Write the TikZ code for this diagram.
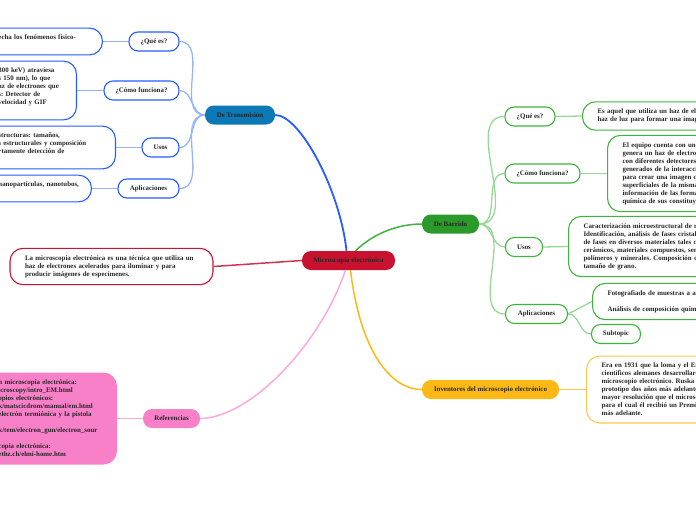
\documentclass[tikz,border=0pt]{standalone}
\usepackage{fontspec}
\setmainfont{Liberation Serif}
\frenchspacing
\definecolor{crim}{RGB}{200,18,48}
\definecolor{transfill}{RGB}{12,120,182}
\definecolor{transline}{RGB}{40,92,255}
\definecolor{translight}{RGB}{150,180,255}
\definecolor{barrfill}{RGB}{42,155,42}
\definecolor{barrline}{RGB}{62,180,62}
\definecolor{barrlight}{RGB}{150,215,150}
\definecolor{invfill}{RGB}{252,185,22}
\definecolor{invline}{RGB}{253,200,80}
\definecolor{reffill}{RGB}{248,128,200}
\definecolor{reflight}{RGB}{250,170,220}

\begin{document}
\begin{tikzpicture}[x=1pt, y=-1pt,
    every node/.style={font=\bfseries\fontsize{6.9}{8}\selectfont, text=black!85},
    topic/.style={rounded corners=9pt, minimum height=19pt, inner xsep=2pt},
    sub/.style={draw, fill=white, line width=1.1pt, rounded corners=9pt, minimum height=19pt, inner xsep=2pt},
    txtbox/.style={draw, fill=white, line width=1.1pt, rounded corners=13pt, align=left, inner xsep=15pt, inner ysep=7pt},
    twig/.style={line width=1.3pt}]
    \useasboundingbox (0,0) rectangle (696,520);
    \clip (0,0) rectangle (696,520);

    % centre and main topics
    \node[topic, fill=crim, minimum width=93pt] (micro) at (348.5,260.5) {Microscopía electrónica};
    \node[topic, fill=transfill, minimum width=70pt] (trans) at (240,115) {De Transmisión};
    \node[topic, fill=barrfill, minimum width=57pt] (barr) at (450.5,224) {De Barrido};
    \node[topic, fill=invfill, minimum width=137pt] (inv) at (490.5,389.5) {Inventores del microscopio electrónico};
    \node[topic, fill=reffill, minimum width=57pt] (ref) at (171.5,418.5) {Referencias};
    \node[txtbox, draw=crim, text width=173pt, minimum height=35pt] (defbox) at (111.5,266.5)
        {La microscopia electrónica es una técnica que utiliza un\\haz de electrones acelerados para iluminar y para\\producir imágenes de especímenes.};

    \draw[transline, line width=1.8pt] (trans.east) .. controls (300,115) and (340,190) .. ([xshift=-2pt]micro.north);
    \draw[barrline, line width=1.5pt] ([xshift=7pt]micro.north) .. controls (375,232) and (400,224) .. (barr.west);
    \draw[invfill, line width=1.5pt] ([xshift=2pt]micro.south) .. controls (360,350) and (390,389.5) .. (inv.west);
    \draw[reflight, line width=1.5pt] ([xshift=-3pt]micro.south) .. controls (320,345) and (250,418) .. (ref.east);
    \draw[crim!85, line width=1.5pt] (micro.west) -- (defbox.east);

    % de transmision
    \node[sub, draw=transline, minimum width=50pt] (tq) at (154,41.5) {¿Qué es?};
    \node[sub, draw=transline, minimum width=75pt] (tc) at (141.5,90.5) {¿Cómo funciona?};
    \node[sub, draw=transline, minimum width=37pt] (tu) at (160.5,147.5) {Usos};
    \node[sub, draw=transline, minimum width=61pt] (ta) at (148.5,188.5) {Aplicaciones};
    \node[txtbox, draw=transline, anchor=east, text width=89pt] (tqbox) at (103,41.5)
        {\mbox{echa los fenómenos físico-}\\~};
    \node[txtbox, draw=transline, anchor=east, text width=63pt] (tcbox) at (77,90.5)
        {300 keV) atraviesa\\s 150 nm), lo que\\\mbox{az de electrones que}\\s: Detector de\\velocidad y GIF\\~};
    \node[txtbox, draw=transline, anchor=east, text width=102pt] (tubox) at (116,147.5)
        {structuras: tamaños,\\\mbox{s estructurales y composición}\\rtamente detección de\\~};
    \node[txtbox, draw=transline, anchor=east, text width=78pt] (tabox) at (92,188.5)
        {\mbox{nanopartículas, nanotubos,}\\~};
    \foreach \s in {tq,tc,tu,ta} {
        \draw[translight, twig] (trans.west) to[out=180, in=0] (\s.east);
        \draw[translight, twig] (\s.west) -- (\s box.east);
    }

    % de barrido
    \node[sub, draw=barrline, minimum width=50pt] (bq) at (530,116.5) {¿Qué es?};
    \node[sub, draw=barrline, minimum width=75pt] (bc) at (542.5,173.5) {¿Cómo funciona?};
    \node[sub, draw=barrline, minimum width=37pt] (bu) at (524,247) {Usos};
    \node[sub, draw=barrline, minimum width=62pt] (ba) at (536.5,314) {Aplicaciones};
    \node[sub, draw=barrline, minimum width=49pt] (bs) at (616,334) {Subtopic};
    \node[txtbox, draw=barrline, anchor=west, text width=200pt] (bqbox) at (582,116)
        {Es aquel que utiliza un haz de ele\\haz de luz para formar una imag};
    \node[txtbox, draw=barrline, anchor=west, text width=200pt] (bcbox) at (607,173.5)
        {El equipo cuenta con un c\\genera un haz de electron\\con diferentes detectores\\generados de la interacci\\para crear una imagen qu\\superficiales de la misma\\información de las forma\\química de sus constituye};
    \node[txtbox, draw=barrline, anchor=west, text width=200pt] (bubox) at (568,246.5)
        {Caracterización microestructural de m\\Identificación, análisis de fases cristali\\de fases en diversos materiales tales co\\cerámicos, materiales compuestos, sem\\polímeros y minerales. Composición d\\tamaño de grano.};
    \node[txtbox, draw=barrline, anchor=west, text width=200pt] (babox) at (592,301.5)
        {Fotografiado de muestras a alt\\~\\Análisis de composición quími};
    \foreach \s in {bq,bc,bu,ba} {
        \draw[barrlight, twig] (barr.east) to[out=0, in=180] (\s.west);
        \draw[barrlight, twig] (\s.east) -- (\s box.west);
    }
    \draw[barrlight, twig] (ba.east) to[out=0, in=180] (bs.west);

    % inventores
    \node[txtbox, draw=invline, anchor=west, text width=200pt] (invbox) at (586,389.5)
        {Era en 1931 que la loma y el Erns\\científicos alemanes desarrollaro\\microscopio electrónico. Ruska s\\prototipo dos años más adelante\\mayor resolución que el microsco\\para el cual él recibió un Premio\\más adelante.};
    \draw[invline, twig] (inv.east) -- (invbox.west);

    % referencias
    \node[txtbox, draw=reffill, fill=reffill, anchor=east, text width=103pt] (refbox) at (117,418.5)
        {n microscopía electrónica:\\icroscopy/intro\_EM.html\\opios electrónicos:\\k/matscicdrom/manual/em.html\\electrón termiónica y la pistola\\~\\k/tem/electron\_gun/electron\_sour\\~\\copia electrónica:\\ethz.ch/elmi-home.htm};
    \draw[reflight, twig] (ref.west) -- (refbox.east);
\end{tikzpicture}
\end{document}
